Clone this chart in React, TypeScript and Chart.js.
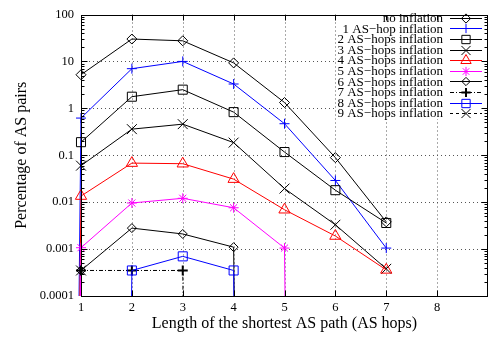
import React, { useEffect, useRef } from 'react';
import { Chart, registerables } from 'chart.js';

Chart.register(...registerables);

// x positions of data (AS hops); 0 means "zero percentage" (drawn as a drop to the axis floor)
const hops = [0, 1, 2, 3, 4, 5, 6, 7];
const noInflation = [null, 5.2, 30, 27.5, 9.3, 1.33, 0.089, 0.0038];
const inflation1 = [0, 0.62, 7, 10, 3.3, 0.47, 0.029, 0.00105];
const inflation2 = [null, 0.19, 1.77, 2.5, 0.83, 0.117, 0.018, 0.0036];
const inflation3 = [null, 0.06, 0.36, 0.46, 0.186, 0.0195, 0.0033, 0.00038];
const inflation4 = [0, 0.0135, 0.068, 0.066, 0.031, 0.0069, 0.0019, 0.00036];
const inflation5 = [0, 0.00107, 0.0096, 0.0121, 0.0076, 0.00105, 0, null];
const inflation6 = [null, 0.00035, 0.0028, 0.0021, 0.0011, 0, null, null];
const inflation7 = [null, 0.00035, 0.00035, 0.00035, 0, null, null, null];
const inflation8 = [null, 0, 0.00035, 0.0007, 0.00035, 0, null, null];
const inflation9 = [null, 0.00035, null, null, null, null, null, null];

const seriesNames = [
  'no inflation',
  '1 AS\u2212hop inflation',
  '2 AS\u2212hops inflation',
  '3 AS\u2212hops inflation',
  '4 AS\u2212hops inflation',
  '5 AS\u2212hops inflation',
  '6 AS\u2212hops inflation',
  '7 AS\u2212hops inflation',
  '8 AS\u2212hops inflation',
  '9 AS\u2212hops inflation',
];
const seriesValues = [
  noInflation, inflation1, inflation2, inflation3, inflation4,
  inflation5, inflation6, inflation7, inflation8, inflation9,
];

const yTickValues = [0.0001, 0.001, 0.01, 0.1, 1, 10, 100];
const yTickLabels = ['0.0001', '0.001', '0.01', '0.1', '1', '10', '100'];
const xTickValues = [1, 2, 3, 4, 5, 6, 7, 8];
const xTitle = 'Length of the shortest AS path (AS hops)';
const yTitle = 'Percentage of AS pairs';

// styles
const FONT = '"Liberation Serif", "Times New Roman", serif';
const ZERO = 1e-100;
type Style = { color: string; marker: string; r: number; w: number; dash: number[] };
const styles: Style[] = [
  { color: '#000000', marker: 'rectRot', r: 5, w: 1, dash: [] },
  { color: '#0000ff', marker: 'cross', r: 5, w: 1, dash: [] },
  { color: '#000000', marker: 'rect', r: 6.4, w: 1, dash: [] },
  { color: '#000000', marker: 'crossRot', r: 7, w: 1, dash: [] },
  { color: '#ff0000', marker: 'triangle', r: 6.5, w: 1, dash: [] },
  { color: '#ff00ff', marker: 'star', r: 5, w: 1, dash: [] },
  { color: '#000000', marker: 'rectRot', r: 4.5, w: 1, dash: [] },
  { color: '#000000', marker: 'cross', r: 5, w: 2, dash: [4, 2, 1, 2] },
  { color: '#0000ff', marker: 'rect', r: 6.4, w: 1, dash: [] },
  { color: '#000000', marker: 'crossRot', r: 7, w: 1, dash: [3, 3] },
];

function drawMarker(ctx: CanvasRenderingContext2D, style: string, x: number, y: number, r: number) {
  ctx.beginPath();
  const q = Math.PI / 4;
  switch (style) {
    case 'rectRot':
      ctx.moveTo(x - r, y);
      ctx.lineTo(x, y - r);
      ctx.lineTo(x + r, y);
      ctx.lineTo(x, y + r);
      ctx.closePath();
      break;
    case 'rect': {
      const s = Math.SQRT1_2 * r;
      ctx.rect(x - s, y - s, 2 * s, 2 * s);
      break;
    }
    case 'cross':
      ctx.moveTo(x, y - r); ctx.lineTo(x, y + r);
      ctx.moveTo(x - r, y); ctx.lineTo(x + r, y);
      break;
    case 'crossRot': {
      const o = Math.cos(q) * r;
      ctx.moveTo(x - o, y - o); ctx.lineTo(x + o, y + o);
      ctx.moveTo(x - o, y + o); ctx.lineTo(x + o, y - o);
      break;
    }
    case 'star': {
      const o = Math.cos(q) * r;
      ctx.moveTo(x, y - r); ctx.lineTo(x, y + r);
      ctx.moveTo(x - r, y); ctx.lineTo(x + r, y);
      ctx.moveTo(x - o, y - o); ctx.lineTo(x + o, y + o);
      ctx.moveTo(x - o, y + o); ctx.lineTo(x + o, y - o);
      break;
    }
    case 'triangle': {
      let a = 0;
      ctx.moveTo(x + Math.sin(a) * r, y - Math.cos(a) * r);
      a += (2 * Math.PI) / 3;
      ctx.lineTo(x + Math.sin(a) * r, y - Math.cos(a) * r);
      a += (2 * Math.PI) / 3;
      ctx.lineTo(x + Math.sin(a) * r, y - Math.cos(a) * r);
      ctx.closePath();
      break;
    }
  }
  ctx.stroke();
}

const gridPlugin = {
  id: 'gnuGrid',
  beforeDatasetsDraw(chart: any) {
    const { ctx, chartArea } = chart;
    const { left, right, top, bottom } = chartArea;
    const xs = chart.scales.x;
    const ys = chart.scales.y;
    ctx.save();
    ctx.strokeStyle = '#555555';
    ctx.lineWidth = 1;
    ctx.setLineDash([1, 3]);
    ctx.beginPath();
    yTickValues.forEach((v) => {
      const y = Math.round(ys.getPixelForValue(v)) + 0.5;
      if (y > top + 1 && y < bottom - 1) {
        ctx.moveTo(left, y);
        ctx.lineTo(right, y);
      }
    });
    xTickValues.forEach((v) => {
      const x = Math.round(xs.getPixelForValue(v)) + 0.5;
      if (x > left + 1 && x < right - 1) {
        ctx.moveTo(x, top);
        ctx.lineTo(x, bottom);
      }
    });
    ctx.stroke();
    ctx.restore();
  },
  afterDraw(chart: any) {
    const { ctx, chartArea } = chart;
    const { left, right, top, bottom } = chartArea;
    const xs = chart.scales.x;
    const ys = chart.scales.y;
    ctx.save();
    // legend box (opaque)
    ctx.fillStyle = '#ffffff';
    ctx.fillRect(337, 8, 151, 111);
    // legend entries
    ctx.font = '13px ' + FONT;
    ctx.textAlign = 'right';
    ctx.textBaseline = 'middle';
    seriesNames.forEach((name, i) => {
      const y = 17.8 + i * 10.6;
      const st = styles[i];
      ctx.fillStyle = '#000';
      ctx.fillText(name, 443, y + 0.8);
      ctx.strokeStyle = st.color;
      ctx.lineWidth = 1;
      ctx.setLineDash(st.dash);
      ctx.beginPath();
      ctx.moveTo(450, Math.round(y) + 0.5);
      ctx.lineTo(482, Math.round(y) + 0.5);
      ctx.stroke();
      ctx.setLineDash([]);
      ctx.lineWidth = st.w;
      drawMarker(ctx, st.marker, 466, Math.round(y) + 0.5, st.r * 0.92);
    });
    // border
    ctx.setLineDash([]);
    ctx.strokeStyle = '#000';
    ctx.lineWidth = 1;
    const L = Math.round(left) + 0.5;
    const R = Math.round(right) - 0.5;
    const T = Math.round(top) + 0.5;
    const B = Math.round(bottom) + 0.5;
    ctx.strokeRect(L, T, R - L, B - T);
    // ticks
    ctx.beginPath();
    for (let e = -4; e <= 2; e++) {
      for (let k = 1; k <= 9; k++) {
        const v = k * Math.pow(10, e);
        if (v > 100.0001) continue;
        const y = Math.round(ys.getPixelForValue(v)) + 0.5;
        const len = k === 1 ? 6 : 3;
        ctx.moveTo(L, y); ctx.lineTo(L + len, y);
        ctx.moveTo(R, y); ctx.lineTo(R - len, y);
      }
    }
    xTickValues.forEach((v) => {
      const x = Math.round(xs.getPixelForValue(v)) + 0.5;
      ctx.moveTo(x, B); ctx.lineTo(x, B - 6);
      ctx.moveTo(x, T); ctx.lineTo(x, T + 5);
    });
    ctx.stroke();
    ctx.restore();
  },
};

export default function App() {
  const ref = useRef<HTMLCanvasElement | null>(null);
  useEffect(() => {
    document.body.style.margin = '0';
    const canvas = ref.current;
    if (!canvas) return;
    const datasets = seriesValues.map((vals, i) => {
      const st = styles[i];
      const data = hops
        .map((h, j) => (vals[j] === null ? null : { x: h, y: vals[j] === 0 ? ZERO : (vals[j] as number) }))
        .filter((p) => p !== null);
      return {
        label: seriesNames[i],
        data,
        borderColor: st.color,
        backgroundColor: 'transparent',
        borderWidth: 1,
        borderDash: st.dash,
        pointStyle: st.marker,
        pointBorderColor: st.color,
        pointBackgroundColor: 'transparent',
        pointBorderWidth: st.w,
        pointRadius: (c: any) => (c.raw && c.raw.y < 1e-50 ? 0 : st.r),
        pointHoverRadius: 0,
        tension: 0,
        order: 20 - i,
        clip: { left: 12, top: 12, right: 12, bottom: 0 },
      };
    });
    const chart = new Chart(canvas, {
      type: 'line',
      data: { datasets: datasets as any },
      plugins: [gridPlugin],
      options: {
        animation: false,
        responsive: false,
        devicePixelRatio: 1,
        events: [],
        layout: { padding: { left: 0, top: 5, right: 3, bottom: 0 } },
        plugins: { legend: { display: false }, tooltip: { enabled: false } },
        scales: {
          x: {
            type: 'linear',
            min: 1,
            max: 9,
            afterBuildTicks: (s: any) => {
              s.ticks = xTickValues.map((v) => ({ value: v }));
            },
            afterFit: (s: any) => {
              s.height = 42;
            },
            grid: { display: false, drawTicks: false },
            border: { display: false },
            ticks: {
              color: '#000',
              font: { family: FONT, size: 12.5 },
              padding: 4,
              maxRotation: 0,
              autoSkip: false,
              callback: (v: any) => String(v),
            },
            title: {
              display: true,
              text: xTitle,
              color: '#000',
              font: { family: FONT, size: 16 },
              padding: { top: 0, bottom: 5 },
            },
          },
          y: {
            type: 'logarithmic',
            min: 0.0001,
            max: 100,
            afterBuildTicks: (s: any) => {
              s.ticks = yTickValues.map((v) => ({ value: v }));
            },
            afterFit: (s: any) => {
              s.width = 81;
            },
            grid: { display: false, drawTicks: false },
            border: { display: false },
            ticks: {
              color: '#000',
              font: { family: FONT, size: 12.5 },
              padding: 7,
              autoSkip: false,
              callback: (v: any) => {
                const idx = yTickValues.findIndex((t) => Math.abs(Math.log10(t) - Math.log10(v)) < 1e-6);
                return idx >= 0 ? yTickLabels[idx] : '';
              },
            },
            title: {
              display: true,
              text: yTitle,
              color: '#000',
              font: { family: FONT, size: 16 },
              padding: { top: 12, bottom: 0 },
            },
          },
        },
      },
    });
    return () => chart.destroy();
  }, []);
  return <canvas ref={ref} width={496} height={338} style={{ display: 'block' }} />;
}
